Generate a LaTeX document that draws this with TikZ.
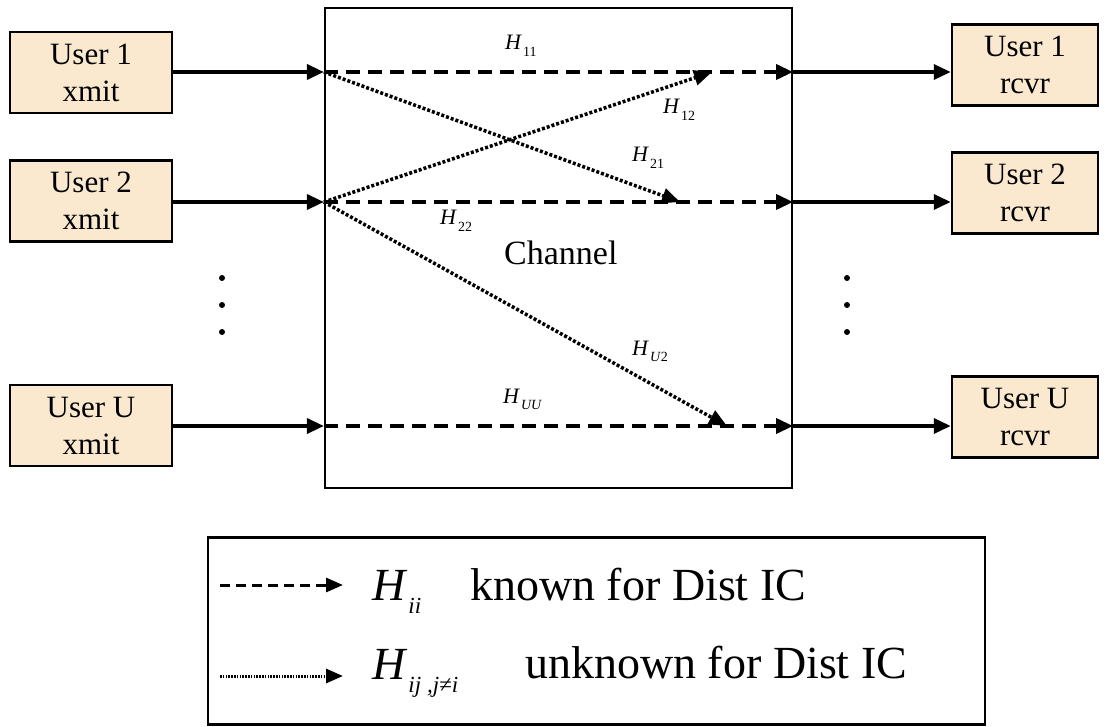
\documentclass[tikz,border=0pt]{standalone}
\usepackage{fontspec}
\setmainfont{Liberation Serif}
\usepackage{tikz}
\usetikzlibrary{arrows.meta}
\definecolor{primary}{RGB}{0,0,0}
\definecolor{boxfill}{RGB}{250,233,207}
\newcommand{\chgain}[2]{\textit{H}\kern1pt\raisebox{-0.3em}{\fontsize{#1}{#1}\selectfont#2}}

\tikzset{
  userbox/.style={draw=primary,line width=2.5pt,fill=boxfill,minimum width=162pt,minimum height=81pt,
    inner sep=0pt,align=center,font=\fontsize{31}{37}\selectfont},
  link/.style={primary,line width=3.5pt,-{Triangle[length=17pt,width=15pt]}},
  direct/.style={link,dash pattern=on 14pt off 8pt},
  cross/.style={primary,line width=3.5pt,dash pattern=on 3pt off 2pt,-{Triangle[length=18pt,width=15pt]}},
  gain/.style={anchor=base west,inner sep=0pt,font=\fontsize{22}{22}\selectfont},
  legtext/.style={anchor=base west,inner sep=0pt,font=\fontsize{46}{46}\selectfont},
}

\begin{document}
\begin{tikzpicture}[x=1pt,y=-1pt]
\useasboundingbox (0,0) rectangle (1107,727);
% channel and users
\node[draw=primary,line width=2.2pt,minimum width=467pt,minimum height=480pt,inner sep=0pt] (chan) at (558.5,248) {};
\node[anchor=base west,inner sep=0pt,font=\fontsize{34}{34}\selectfont] (chanlabel) at (504,264) {Channel};
\node[userbox] (tx1) at (91,72.5) {User 1\\xmit};
\node[userbox] (tx2) at (91,201) {User 2\\xmit};
\node[userbox] (txU) at (91,425.5) {User U\\xmit};
\node[userbox,minimum width=146pt] (rx1) at (1025,65) {User 1\\rcvr};
\node[userbox,minimum width=146pt] (rx2) at (1025,193) {User 2\\rcvr};
\node[userbox,minimum width=146pt] (rxU) at (1025,417) {User U\\rcvr};
% ports on the channel
\coordinate (in1) at (chan.west |- 0,72);
\coordinate (in2) at (chan.west |- 0,202);
\coordinate (inU) at (chan.west |- 0,426);
\coordinate (out1) at (chan.east |- in1);
\coordinate (out2) at (chan.east |- in2);
\coordinate (outU) at (chan.east |- inU);
\coordinate (tip12) at (712,72);
\coordinate (tip21) at (680,202);
\coordinate (tipU2) at (727,426);
% connectors
\draw[link] (tx1.east |- in1) -- (in1);
\draw[link] (tx2.east |- in2) -- (in2);
\draw[link] (txU.east |- inU) -- (inU);
\draw[link] (out1) -- (out1 -| rx1.west);
\draw[link] (out2) -- (out2 -| rx2.west);
\draw[link] (outU) -- (outU -| rxU.west);
\draw[direct] (in1) -- (out1);
\draw[direct] (in2) -- (out2);
\draw[direct] (inU) -- (outU);
\draw[cross] (in1) -- (tip21);
\draw[cross] (in2) -- (tip12);
\draw[cross] (in2) -- (tipU2);
% gains
\node[gain] (h11) at (505,50) {\chgain{14}{11}};
\node[gain] (h12) at (663,114) {\chgain{14}{12}};
\node[gain] (h21) at (632,162) {\chgain{14}{21}};
\node[gain] (h22) at (440,225) {\chgain{14}{22}};
\node[gain] (hU2) at (632,355) {\chgain{14}{\textit{U}2}};
\node[gain] (hUU) at (503,403) {\chgain{14}{\textit{UU}}};
% dots
\foreach \y in {278,305,332} {
  \fill[primary] (222,\y) circle (3pt);
  \fill[primary] (847,\y) circle (3pt);
}
% legend
\node[draw=primary,line width=2.2pt,minimum width=777pt,minimum height=187pt,inner sep=0pt] (legend) at (596.5,631) {};
\coordinate (keyA) at (220,585);
\coordinate (keyB) at (220,676);
\draw[primary,line width=3pt,dash pattern=on 10pt off 6pt,-{Triangle[length=17pt,width=14pt]}] (keyA) -- ++(123,0);
\draw[primary,line width=3pt,dash pattern=on 1.6pt off 1.2pt,-{Triangle[length=17pt,width=14pt]}] (keyB) -- ++(123,0);
\node[legtext] (hii) at (372,600) {\chgain{23}{\textit{ii}}};
\node[legtext] (known) at (470,600) {known for Dist IC};
\node[legtext] (hij) at (372,679) {\chgain{23}{\textit{ij ,j≠i}}};
\node[legtext] (unknown) at (525,678) {unknown for Dist IC};
\end{tikzpicture}
\end{document}
